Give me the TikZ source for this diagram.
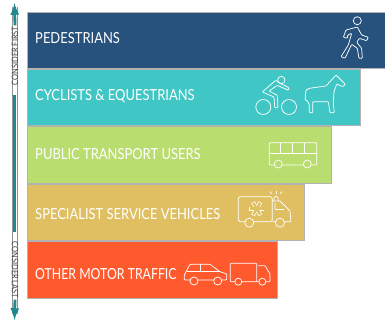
\documentclass[tikz,border=0pt]{standalone}
\usepackage{fontspec}
\setmainfont[FakeStretch=0.85]{Lato}
\definecolor{pedcol}{HTML}{27527E}
\definecolor{cyccol}{HTML}{40C6C4}
\definecolor{buscol}{HTML}{B9DD6F}
\definecolor{spccol}{HTML}{DFBF62}
\definecolor{motcol}{HTML}{FF5A2E}
\definecolor{axcol}{HTML}{1F8A8E}
\tikzset{
 bar/.style={draw=gray!60,line width=0.2mm,anchor=north west,inner sep=0,minimum height=17mm},
 barlabel/.style={anchor=west,text=white,inner sep=0,font=\fontsize{13}{15}\selectfont},
 icon/.style={draw=white,line width=0.22mm,rounded corners=0.25mm},
 axlabel/.style={inner sep=0.3mm,text=black!75,font=\fontsize{7.5}{8}\selectfont},
}
\begin{document}
\begin{tikzpicture}[x=0.3mm,y=-0.3mm]
 \useasboundingbox (0,0) rectangle (385,325);
 \coordinate (axtop) at (14.5,3);
 \coordinate (axbot) at (14.5,320);
 \draw[gray!85,line width=1.65mm] (15,7) -- (15,314);
 \draw[white,line width=1.1mm] (15,7) -- (15,314);
 \node[axlabel,rotate=90] (first) at (15,56) {CONSIDER FIRST};
 \node[axlabel,rotate=-90] (last) at (15,270) {CONSIDER LAST};
 \draw[-latex,axcol,line width=0.85mm] (first.east) -- (axtop);
 \draw[-latex,axcol,line width=0.85mm] (last.east) -- (axbot);
 \draw[axcol,line width=0.85mm] ([xshift=-0.15mm,yshift=-2.5mm]first.west) -- ([xshift=-0.15mm,yshift=2.5mm]last.west);

 \node[bar,fill=motcol,minimum width=75mm] (mot) at (27,241) {};
 \node[bar,fill=spccol,minimum width=83.1mm] (spc) at (27,183.5) {};
 \node[bar,fill=buscol,minimum width=91.2mm] (bus) at (27,126) {};
 \node[bar,fill=cyccol,minimum width=99.9mm] (cyc) at (27,68.5) {};
 \node[bar,fill=pedcol,minimum width=107.4mm] (ped) at (27,11.5) {};

 \node[barlabel] (pedtxt) at (35,38) {PEDESTRIANS};
 \node[barlabel] (cyctxt) at (35,96) {CYCLISTS \& EQUESTRIANS};
 \node[barlabel] (bustxt) at (35,154) {PUBLIC TRANSPORT USERS};
 \node[barlabel] (spctxt) at (35,214) {SPECIALIST SERVICE VEHICLES};
 \node[barlabel,xscale=0.95] (mottxt) at (35,274) {OTHER MOTOR TRAFFIC};

 \draw[icon] (357.3,20.7) circle (4);
 \draw[icon] (357.3,27) -- (361.7,35) -- (368.3,37.3) -- (366.7,40.7) -- (359.3,38.3) -- (356.7,42.3) -- (361.7,48.3) -- (362.3,58.3) -- (359,58.3) -- (357.3,48.3) -- (351.7,44.3) -- (345,58.3) -- (341,56.7) -- (348.3,45) -- (351.7,33.3) -- (347.7,35) -- (347.3,38.3) -- (343.3,37.3) -- (346,30) -- cycle;

 \draw[icon] (263.3,107) circle (7.5);
 \draw[icon] (289,107) circle (7.5);
 \draw[icon] (281.3,80) circle (3.7);
 \draw[icon] (275.7,80.3) -- (262.3,92) -- (274,97) -- (274.7,107.7) -- (278,107.7) -- (277.3,95.3) -- (269,91) -- (277.3,85.3) -- (288.3,90.3) -- (289,87.7) -- (280.7,83.7) -- cycle;
 \draw[icon] (336,75) -- (345.3,84.3) -- (342.7,86.7) -- (336.7,84) -- (334,91.7) -- (333.3,103) -- (334.3,112.7) -- (330,112.7) -- (328.3,101.7) -- (312.7,101.7) -- (312.7,112.7) -- (309.3,112.7) -- (309.3,105) -- (307.3,100.7) -- (305,100) -- (306,90) -- (309.3,88.3) -- (326,86) -- cycle;

 \draw[icon] (269.3,142.7) rectangle (316.7,165);
 \draw[icon] (269.3,153.3) -- (316.7,153.3);
 \draw[icon] (280.7,142.7) -- (280.7,153.3);
 \draw[icon] (292.3,142.7) -- (292.3,153.3);
 \draw[icon] (304,142.7) -- (304,153.3);
 \draw[icon,fill=buscol] (278.3,164) circle (4);
 \draw[icon,fill=buscol] (307.3,164) circle (4);

 \draw[icon,rounded corners=0.5mm] (238.3,196.7) rectangle (272.3,221.7);
 \draw[icon] (272.3,201) -- (280,201) -- (290,211) -- (291,221.7) -- (272.3,221.7);
 \draw[icon] (275,203) -- (275,209.5) -- (284,209.5);
 \draw[icon] (273.5,201) -- (274.5,196.5) -- (277.5,196.5) -- (278.5,201);
 \draw[icon] (276,193.5) -- (276,190.5);
 \draw[icon] (271.5,194) -- (270,191.5);
 \draw[icon] (280.5,194) -- (282,191.5);
 \foreach \ang in {0,60,120} {
  \draw[white,line width=1.2mm,rotate around={\ang:(256.7,208.7)}] (249.2,208.7) -- (264.2,208.7);
 }
 \foreach \ang in {0,60,120} {
  \draw[spccol,line width=0.75mm,rotate around={\ang:(256.7,208.7)}] (249.9,208.7) -- (263.5,208.7);
 }
 \draw[icon,fill=spccol] (249.3,222.7) circle (4.5);
 \draw[icon,fill=spccol] (280,222.7) circle (4.5);

 \draw[icon] (184.3,275) -- (190,264.3) -- (210,264.3) -- (220,271.7) -- (226.7,274) -- (226.7,280) -- (184.3,280) -- cycle;
 \draw[icon] (186.7,271.7) -- (220,271.7);
 \draw[icon] (200,264.3) -- (200,271.7);
 \draw[icon,fill=motcol] (194,281) circle (4);
 \draw[icon,fill=motcol] (217.7,281) circle (4);
 \draw[icon] (230.3,263.3) rectangle (256.7,281.7);
 \draw[icon] (258.3,265.7) -- (265,265.7) -- (270,274) -- (270,281.7) -- (256.7,281.7);
 \draw[icon,fill=motcol] (238.3,281.7) circle (3.5);
 \draw[icon,fill=motcol] (262.3,281.7) circle (3.5);
\end{tikzpicture}
\end{document}
